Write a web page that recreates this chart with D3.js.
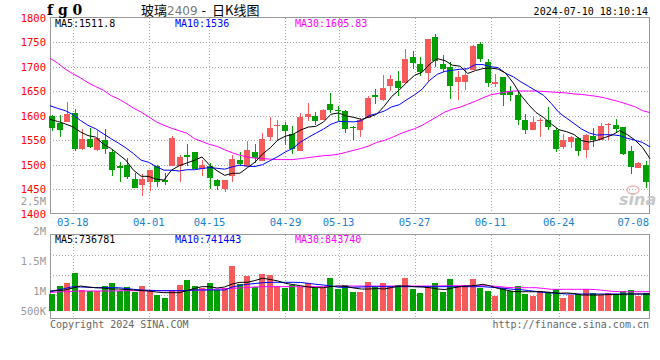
<!DOCTYPE html>
<html><head><meta charset="utf-8">
<script src="https://cdn.jsdelivr.net/npm/d3@7"></script>
<style>body{margin:0;background:#fff}svg{display:block}</style>
</head><body><svg id="c" width="660" height="360"></svg>
<script>
const dates = ["03-13","03-14","03-15","03-18","03-19","03-20","03-21","03-22","03-25","03-26",
"03-27","03-28","03-29","04-01","04-02","04-03","04-08","04-09","04-10","04-11",
"04-12","04-15","04-16","04-17","04-18","04-19","04-22","04-23","04-24","04-25",
"04-26","04-29","04-30","05-06","05-07","05-08","05-09","05-10","05-13","05-14",
"05-15","05-16","05-17","05-20","05-21","05-22","05-23","05-24","05-27","05-28",
"05-29","05-30","05-31","06-03","06-04","06-05","06-06","06-07","06-11","06-12",
"06-13","06-14","06-17","06-18","06-19","06-20","06-21","06-24","06-25","06-26",
"06-27","06-28","07-01","07-02","07-03","07-04","07-05","07-08","07-09","07-10"];

const open = [1600,1585,1586,1606,1532,1553,1529,1549,1525,1496,
1500,1471,1459,1464,1496,1468,1497,1497,1520,1526,
1491,1496,1469,1449,1476,1510,1497,1525,1508,1556,
1578,1581,1563,1527,1597,1600,1591,1624,1612,1610,
1576,1570,1595,1642,1632,1661,1671,1666,1719,1706,
1687,1760,1706,1700,1668,1668,1692,1746,1709,1665,
1678,1649,1642,1591,1571,1588,1590,1571,1536,1545,
1555,1530,1559,1549,1580,1581,1576,1527,1493,1500];
const high = [1602,1602,1627,1614,1572,1574,1568,1572,1532,1506,
1514,1482,1481,1489,1499,1482,1559,1519,1542,1526,
1510,1503,1470,1469,1520,1525,1547,1542,1564,1597,
1591,1587,1578,1605,1625,1608,1614,1646,1620,1612,
1579,1595,1640,1654,1683,1683,1691,1736,1731,1719,
1757,1767,1724,1709,1690,1697,1743,1749,1716,1685,
1678,1661,1649,1603,1598,1595,1617,1575,1562,1559,
1557,1563,1574,1585,1585,1593,1576,1537,1506,1508];
const low = [1568,1556,1586,1527,1529,1534,1527,1521,1476,1465,
1471,1453,1435,1445,1455,1459,1497,1465,1497,1491,
1476,1449,1447,1443,1464,1496,1497,1504,1508,1547,
1550,1540,1522,1527,1588,1581,1590,1605,1588,1564,
1551,1557,1595,1624,1630,1649,1639,1666,1695,1680,
1670,1699,1688,1634,1632,1653,1692,1709,1658,1659,
1619,1629,1581,1562,1571,1556,1571,1525,1532,1534,
1518,1514,1535,1549,1550,1565,1519,1481,1493,1453];
const close = [1574,1570,1604,1532,1553,1536,1555,1532,1489,1493,
1474,1453,1471,1488,1464,1465,1555,1515,1516,1491,
1500,1472,1457,1469,1512,1501,1529,1513,1553,1574,
1581,1568,1532,1597,1604,1588,1612,1612,1610,1573,
1574,1591,1636,1638,1656,1674,1657,1715,1708,1688,
1757,1712,1695,1661,1678,1683,1741,1716,1666,1668,
1641,1641,1591,1571,1586,1590,1576,1532,1551,1557,
1528,1561,1549,1579,1583,1573,1522,1494,1504,1464];

const ma5 = [1592,1588,1583,1577,1566.6,1559,1556,1541.6,1533,1521,
1508.6,1488.2,1476,1475.8,1470,1468.2,1488.6,1497.4,1503,1508.4,
1515.4,1498.8,1487.2,1477.8,1482,1482.2,1493.6,1504.8,1521.6,1534,
1550,1557.8,1561.6,1570.4,1576.4,1577.8,1586.6,1602.6,1605.2,1599,
1596.2,1592,1596.8,1602.4,1619,1639,1652.2,1668,1682,1688.4,
1705,1716,1712,1702.6,1700.6,1685.8,1691.6,1695.8,1696.8,1694.8,
1686.4,1666.4,1641.4,1622.4,1606,1595.8,1582.8,1571,1567,1561.2,
1548.8,1545.8,1549.2,1554.8,1560,1569,1561.2,1550.2,1535.2,1511.8];
const ma10 = [1620,1614.5,1610,1602,1590,1580,1573,1563,1553,1543.8,
1533.8,1522.1,1508.8,1504.4,1495.5,1488.4,1488.4,1486.7,1489.4,1489.2,
1491.8,1493.7,1492.3,1490.4,1495.2,1498.8,1496.2,1496,1499.7,1508,
1516.1,1525.7,1533.2,1546,1555.2,1563.9,1572.2,1582.1,1587.8,1587.7,
1587,1589.3,1599.7,1603.8,1609,1617.6,1622.1,1632.4,1642.2,1653.7,
1672,1684.1,1690,1692.3,1694.5,1695.4,1703.8,1703.9,1699.7,1697.7,
1686.1,1679,1668.6,1659.6,1650.4,1641.1,1624.6,1606.2,1594.7,1583.6,
1572.3,1564.3,1560.1,1560.9,1560.6,1558.9,1553.5,1549.7,1545,1536];
const ma30 = [1717,1707,1695,1685,1677,1667,1659,1652,1641,1634,
1625,1615,1607,1597,1587,1580,1574,1569,1564,1553,
1547,1541,1537,1530,1524,1519,1515,1513,1512,1511,
1510,1510,1510,1512,1514,1516,1518,1519,1521,1525,
1529,1533,1538,1545,1549,1555,1562,1568,1573,1580,
1589,1598,1607,1613,1617,1623,1629,1636,1642,1645,
1648,1650,1650,1650,1650,1649,1648,1647,1646,1644,
1643,1641,1639,1636,1632,1628,1623,1618,1610,1605.83];

// volume, in thousands
const volume = [950,1083,1138,1305,1017,1000,1000,1083,1138,1000,
1072,988,1083,1000,933,888,1017,1100,1183,1083,
1045,1128,1017,1045,1422,1117,1255,1072,1283,1267,
1083,1055,1100,1072,1128,1055,1055,1222,1033,1100,
988,988,1155,1072,1138,1072,1100,1222,1033,972,
1072,1128,988,1200,1088,1100,1200,1055,1005,922,
1045,1000,1083,950,922,1000,978,1028,888,933,
950,1033,972,933,972,950,1000,1017,922,972];
const volMa5 = [1000,1008,1017,1050,1083,1067,1055,1050,1033,1033,
1025,1017,1008,1000,983,972,972,972,1005,1042,
1072,1072,1050,1067,1117,1145,1145,1175,1212,1192,
1167,1128,1108,1088,1067,1055,1055,1075,1083,1075,
1050,1033,1033,1042,1033,1058,1083,1083,1072,1067,
1055,1033,1025,1050,1075,1083,1092,1112,1083,1042,
1017,992,988,988,988,988,975,962,967,958,
933,933,933,938,942,942,950,950,950,950];
const volMa10 = [988,1017,1042,1072,1067,1062,1055,1055,1055,1055,
1042,1028,1017,1012,1008,1005,1005,1005,1008,1017,
1017,1017,1017,1017,1067,1092,1112,1125,1138,1145,
1145,1145,1145,1142,1128,1112,1100,1083,1062,1062,
1062,1067,1072,1072,1072,1072,1072,1072,1072,1072,
1072,1072,1072,1072,1072,1072,1072,1072,1062,1055,
1042,1028,1022,1008,992,975,967,958,950,950,
950,950,950,950,950,950,950,950,950,950];
const volMa30 = [978,983,988,995,1000,1000,1000,1000,1000,1003,
1005,1005,1005,1005,1005,1005,1005,1005,1008,1013,
1017,1025,1033,1037,1045,1050,1058,1067,1070,1072,
1072,1072,1072,1072,1072,1072,1072,1072,1083,1083,
1083,1083,1083,1083,1083,1083,1083,1083,1083,1083,
1083,1083,1088,1088,1088,1088,1088,1088,1088,1075,
1062,1055,1055,1055,1055,1042,1028,1028,1028,1028,
1028,1028,1022,1008,995,988,988,988,988,988];

const priceTicks = [1400,1450,1500,1550,1600,1650,1700,1750,1800];
const volTickValues = [2500,2000,1500,1000,500];
const volTickLabels = ["2.5M","2M","1.5M","1M","500K"];
const dateTicks = ["03-18","04-01","04-15","04-29","05-13","05-27","06-11","06-24","07-08"];
const priceLegend = ["MA5:1511.8","MA10:1536","MA30:1605.83"];
const volLegend = ["MA5:736781","MA10:741443","MA30:843740"];

const MONO = "'DejaVu Sans Mono', monospace";
const RED = "#f65a5a", GREEN = "#00a000";
const L = 50, R = 649, T = 17.5, B = 213.5, VT = 234.5, VB = 318.5, VBASE = 311;

const svg = d3.select("#c");
const xLine = d3.scalePoint().domain(dates).range([50, 650]);
const xBar = d3.scalePoint().domain(dates).range([52, 645.7]);
const y = d3.scaleLinear().domain([1400, 1800]).range([B, T]);
const yv = d3.scaleLinear().domain([0, 2000]).range([351, 231]);
const vGrid = d3.scaleLinear().domain([0, 4]).range([235, 315]);

const idx = d3.range(dates.length);
const up = i => close[i] >= open[i];

// ---------- grids ----------
const grid = svg.append("g").attr("stroke", "#aaa").attr("stroke-dasharray", "1,2").attr("shape-rendering", "crispEdges");
priceTicks.slice(1, -1).forEach(t => {
  const yy = Math.round(y(t)) + 0.5;
  grid.append("line").attr("x1", L).attr("x2", R).attr("y1", yy).attr("y2", yy);
});
[1, 2, 3].forEach(k => {
  const yy = Math.round(vGrid(k)) + 0.5;
  grid.append("line").attr("x1", L).attr("x2", R).attr("y1", yy).attr("y2", yy);
});
dateTicks.slice(0, -1).forEach(d => {
  const xx = Math.round(xLine(d)) + 0.5;
  grid.append("line").attr("x1", xx).attr("x2", xx).attr("y1", T).attr("y2", B);
  grid.append("line").attr("x1", xx).attr("x2", xx).attr("y1", VT).attr("y2", VB);
});

// ---------- frames ----------
svg.append("rect").attr("x", L + 0.5).attr("y", T).attr("width", R - L).attr("height", B - T)
  .attr("fill", "none").attr("stroke", "#999").attr("shape-rendering", "crispEdges");
svg.append("rect").attr("x", L + 0.5).attr("y", VT).attr("width", R - L).attr("height", VB - VT)
  .attr("fill", "none").attr("stroke", "#999").attr("shape-rendering", "crispEdges");

// ---------- watermark ----------
svg.append("ellipse").attr("cx", 633).attr("cy", 190).attr("rx", 6).attr("ry", 4)
  .attr("fill", "none").attr("stroke", "#f2b8b8").attr("stroke-width", 1.5);
svg.append("text").attr("x", 619).attr("y", 205).attr("font-family", "'DejaVu Sans', sans-serif")
  .attr("font-size", 16).attr("font-weight", "bold").attr("font-style", "italic")
  .attr("fill", "#c8c8c8").text("sina");

// ---------- candles ----------
const cg = svg.append("g").attr("shape-rendering", "crispEdges");
idx.forEach(i => {
  const xc = Math.round(xBar(dates[i]));
  const col = up(i) ? RED : GREEN;
  const yH = Math.round(y(high[i])), yL = Math.round(y(low[i]));
  const yTop = Math.round(y(Math.max(open[i], close[i])));
  const yBot = Math.round(y(Math.min(open[i], close[i])));
  cg.append("rect").attr("x", xc).attr("y", yH).attr("width", 1).attr("height", Math.max(1, yL - yH)).attr("fill", col);
  cg.append("rect").attr("x", xc - 3).attr("y", yTop).attr("width", 6).attr("height", Math.max(1, yBot - yTop)).attr("fill", col);
});

// ---------- price MA lines ----------
const pLine = arr => d3.line().x((d, i) => xLine(dates[i])).y(d => y(d))(arr);
[[ma30, "#ff00ff"], [ma10, "#0000ff"], [ma5, "#000000"]].forEach(([arr, c]) => {
  svg.append("path").attr("d", pLine(arr)).attr("fill", "none").attr("stroke", c).attr("stroke-width", 1);
});

// ---------- volume ----------
const vg = svg.append("g").attr("shape-rendering", "crispEdges");
idx.forEach(i => {
  const xc = Math.round(xBar(dates[i]));
  const top = Math.round(yv(volume[i]));
  vg.append("rect").attr("x", xc - 3).attr("y", top).attr("width", 6).attr("height", VBASE - top)
    .attr("fill", up(i) ? RED : GREEN);
});
const vLine = arr => d3.line().x((d, i) => xLine(dates[i])).y(d => yv(d))(arr);
[[volMa30, "#ff00ff"], [volMa10, "#0000ff"], [volMa5, "#000000"]].forEach(([arr, c]) => {
  svg.append("path").attr("d", vLine(arr)).attr("fill", "none").attr("stroke", c).attr("stroke-width", 1);
});

// ---------- axis labels ----------
const txt = (x, yy, s, col, anchor, size) => svg.append("text").attr("x", x).attr("y", yy)
  .attr("font-family", MONO).attr("font-size", size || 10).attr("fill", col)
  .attr("text-anchor", anchor || "start").attr("dominant-baseline", "central").text(s);

priceTicks.forEach(t => txt(46, y(t), String(t), "#ff0000", "end", 10.5));
volTickValues.forEach((v, k) => txt(46, Math.min(yv(v), VBASE), volTickLabels[k], "#999", "end", 10.5));
dateTicks.forEach((d, k) => {
  const last = k === dateTicks.length - 1;
  txt(last ? R : xLine(d), 222, d, "#1a7fd0", last ? "end" : "middle", 10.5);
});

// ---------- legends ----------
const legCols = ["#000000", "#0000ff", "#ff00ff"];
const legX = [55, 175, 295];
priceLegend.forEach((s, k) => txt(legX[k], 23.5, s, legCols[k], "start", 10));
volLegend.forEach((s, k) => txt(legX[k], 239, s, legCols[k], "start", 10));

// ---------- titles ----------
svg.append("text").attr("x", 47).attr("y", 15).attr("font-family", "'DejaVu Serif', serif")
  .attr("font-size", 14).attr("font-weight", "bold").attr("fill", "#000").text("f g 0");
const tt = svg.append("text").attr("x", 141).attr("y", 15)
  .attr("font-family", "'Noto Sans CJK SC', sans-serif").attr("font-size", 13).attr("fill", "#000");
tt.append("tspan").text("玻璃");
tt.append("tspan").attr("fill", "#777").attr("font-family", "'DejaVu Sans', sans-serif").attr("font-size", 12).text("2409");
tt.append("tspan").attr("dx", 4).text("-");
tt.append("tspan").attr("dx", 6).text("日K线图");
svg.append("text").attr("x", 648).attr("y", 15).attr("font-family", MONO).attr("font-size", 10)
  .attr("text-anchor", "end").attr("fill", "#000").text("2024-07-10 18:10:14");

txt(50, 324, "Copyright 2024 SINA.COM", "#666", "start", 10);
txt(649, 324, "http://finance.sina.com.cn", "#666", "end", 10);
</script></body></html>
